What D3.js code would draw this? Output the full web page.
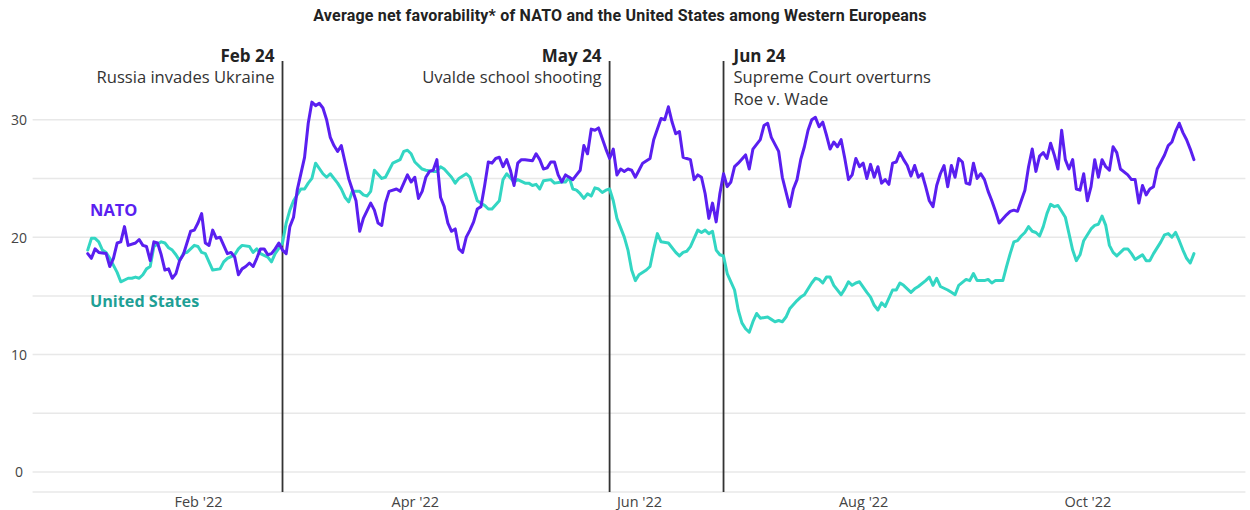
<!DOCTYPE html>
<html><head><meta charset="utf-8">
<script src="https://cdn.jsdelivr.net/npm/d3@7"></script>
<style>
html,body{margin:0;padding:0;background:#fff;}
svg{display:block;font-family:"Open Sans",sans-serif;}
</style></head><body>
<svg id="chart" width="1250" height="510"></svg>
<script>
// Day numbers counted from 1 Jan 2022 (0 = Jan 1)
const natoDays = [1,2,3,4,6,7,8,9,10,11,12,14,15,16,17,18,19,20,21,22,23,24,25,26,27,29,30,31,32,33,34,35,36,37,38,39,40,41,42,43,44,45,46,47,48,49,50,51,52,53,54,55,56,57,58,60,61,62,63,64,65,66,67,68,69,70,71,72,74,75,76,78,79,80,81,82,83,85,86,87,88,89,90,91,92,93,94,95,96,97,98,99,100,101,102,103,104,105,106,107,108,109,110,111,112,113,114,115,116,117,118,119,120,122,123,124,125,126,127,128,129,130,131,132,133,134,135,136,137,138,139,140,141,142,143,144,145,146,147,148,149,150,151,152,154,155,157,158,159,160,161,162,163,164,165,166,167,168,169,170,171,172,173,174,175,176,177,178,180,181,182,184,185,186,187,189,190,192,193,194,195,196,197,198,199,200,201,202,203,204,205,206,207,208,209,210,211,212,213,214,215,216,217,218,219,220,221,222,223,224,225,226,227,228,229,230,231,232,233,234,235,236,237,238,239,240,241,242,243,244,245,246,247,248,249,251,252,253,254,255,256,257,258,259,260,261,262,263,264,265,266,267,268,269,270,271,272,273,274,275,276,277,278,279,280,281,282,284,285,286,287,288,289,290,291,292,294,295,296,297,298,299,300,301,302];
const natoValues = [18.6,18.2,19.0,18.7,18.6,17.5,18.2,19.5,19.6,20.9,19.3,19.5,19.8,19.3,19.2,18.0,19.6,19.5,18.5,17.2,17.3,16.5,16.9,18.0,18.5,20.5,20.6,21.2,22.0,19.5,19.3,20.6,19.9,20.0,19.3,18.6,18.7,18.3,16.8,17.3,17.5,17.8,17.5,18.2,19.0,19.0,18.5,18.6,19.0,19.5,18.9,18.6,20.9,21.7,24.0,26.8,29.7,31.5,31.2,31.4,31.0,30.0,28.5,27.8,27.3,27.8,26.4,25.0,23.1,20.5,21.6,22.9,22.3,21.2,21.0,22.9,23.9,24.1,23.9,24.6,25.3,24.7,25.1,23.3,23.9,25.1,25.6,25.7,26.6,23.4,22.6,21.2,20.5,20.7,19.0,18.7,20.0,20.6,21.3,22.4,22.6,24.4,26.4,26.3,26.7,26.8,26.0,26.6,25.7,24.4,26.3,26.6,26.6,26.5,27.1,26.6,25.8,25.9,26.4,26.4,25.3,24.7,25.3,25.1,24.9,25.3,25.7,27.8,27.1,29.2,29.1,29.3,28.4,27.5,26.7,27.5,25.3,25.8,25.6,25.8,25.7,25.1,25.7,26.3,26.7,28.3,30.1,30.0,31.1,29.8,28.8,29.0,26.8,26.7,26.6,24.9,25.3,25.1,23.7,21.6,22.9,21.3,23.7,25.4,24.3,24.7,26.0,26.3,27.0,25.8,27.5,28.3,29.5,29.7,28.5,27.3,25.1,22.6,24.1,24.9,26.6,27.7,29.1,30.0,30.2,29.4,29.8,28.7,27.5,28.1,27.7,28.3,26.7,24.9,25.3,26.7,26.0,26.3,25.0,26.2,25.1,26.0,24.6,24.9,24.5,26.3,26.4,27.2,26.6,26.1,25.2,26.1,25.1,25.4,24.3,23.1,22.6,24.4,25.4,26.1,24.3,26.1,25.1,26.7,26.4,24.6,24.5,26.3,25.0,25.4,24.9,23.9,23.1,22.2,21.2,21.9,22.2,22.3,22.2,23.1,24.0,26.0,27.5,25.6,26.9,27.2,26.7,28.0,27.0,25.8,29.1,26.6,25.8,26.6,24.1,24.0,25.4,23.1,24.3,26.6,25.1,26.6,26.0,25.7,27.7,27.2,25.8,25.3,24.9,24.9,22.9,24.4,23.6,24.1,24.3,25.8,27.0,27.8,28.1,29.0,29.7,28.9,28.3,27.5,26.6];
const usDays = [1,2,3,4,5,6,7,9,10,12,13,14,15,16,17,18,19,21,22,23,24,25,26,27,28,30,31,32,33,34,35,37,38,39,41,42,43,45,46,47,48,50,51,52,54,55,56,57,59,60,61,62,63,65,66,67,69,70,71,72,73,75,76,77,78,79,81,82,83,84,86,87,88,89,90,92,93,95,96,97,98,100,101,102,104,105,106,107,109,110,111,113,114,115,117,118,120,121,122,123,124,125,127,128,130,131,132,133,134,135,136,137,138,139,140,141,142,143,144,145,147,148,149,150,151,153,154,155,156,157,159,161,162,163,164,165,166,167,168,169,170,171,172,173,174,175,177,178,179,180,181,182,183,184,186,187,188,189,190,191,192,194,195,196,198,199,200,201,202,203,204,206,207,208,209,210,211,213,214,215,216,217,218,220,221,222,223,225,226,227,229,230,231,232,233,235,236,237,238,240,241,242,243,245,246,247,248,250,251,252,253,254,255,256,257,258,259,260,261,262,263,264,265,266,267,268,269,270,271,272,274,275,276,277,278,279,280,281,283,284,285,286,287,288,289,290,291,293,294,295,296,297,298,299,300,301,302];
const usValues = [18.9,19.9,19.9,19.6,18.9,18.7,18.2,17.0,16.2,16.5,16.5,16.6,16.5,16.8,17.3,17.5,19.2,19.6,19.5,19.1,18.9,18.5,18.0,18.6,18.7,19.3,19.2,18.7,18.6,17.9,17.2,17.3,17.9,18.2,18.5,19.0,19.3,19.2,18.7,19.0,18.6,18.3,17.9,18.6,19.5,21.2,22.3,23.1,24.1,24.1,24.6,25.0,26.3,25.4,25.1,25.4,24.6,24.1,23.4,23.0,23.9,23.9,23.6,23.5,23.9,25.7,25.0,25.1,25.7,26.3,26.6,27.3,27.4,27.1,26.4,25.8,25.7,25.6,25.6,26.0,25.8,25.1,24.6,25.0,25.4,25.1,24.1,23.1,22.7,22.4,22.4,23.1,24.9,25.4,24.7,24.9,24.6,24.6,24.4,24.5,24.1,24.8,24.9,24.6,24.7,24.7,25.1,24.1,24.0,23.7,23.3,23.7,23.5,24.2,24.1,23.8,24.0,24.1,23.1,21.6,20.0,18.9,17.2,16.3,16.8,17.2,17.5,19.0,20.3,19.6,19.5,18.7,18.4,18.7,18.8,19.2,19.9,20.6,20.4,20.6,20.3,20.5,18.9,18.5,18.4,16.9,15.5,13.8,12.7,12.2,11.9,12.8,13.5,13.1,13.2,13.0,12.8,12.9,12.8,13.2,13.9,14.6,14.9,15.1,16.1,16.5,16.4,16.1,16.6,16.6,15.9,15.1,15.6,16.2,15.9,16.1,16.2,15.3,14.9,14.2,13.8,14.4,14.1,15.5,15.5,16.1,15.9,15.3,15.6,15.8,16.3,16.6,15.9,16.5,15.8,15.5,15.3,15.1,15.9,16.4,16.3,16.9,16.3,16.3,16.4,16.1,16.3,16.3,17.5,18.6,19.6,19.7,20.1,20.4,20.9,20.5,20.4,20.1,20.9,22.0,22.8,22.6,22.7,22.2,21.7,20.3,18.9,18.0,18.5,19.7,20.7,21.0,21.1,21.8,21.0,19.3,18.7,18.4,19.0,19.0,18.6,18.1,18.3,18.5,18.0,18.0,18.6,19.6,20.2,20.3,20.0,20.4,19.7,18.9,18.2,17.8,18.6];

const yTicks = [0, 10, 20, 30];
const gridValues = [0, 5, 10, 15, 20, 25, 30];
const xTickDates = ["2022-02-01", "2022-04-01", "2022-06-01", "2022-08-01", "2022-10-01"];
const eventDates = ["2022-02-24", "2022-05-24", "2022-06-24"];
const eventTitles = ["Feb 24", "May 24", "Jun 24"];
const eventTexts = [["Russia invades Ukraine"], ["Uvalde school shooting"], ["Supreme Court overturns", "Roe v. Wade"]];
const eventSides = ["left", "left", "right"];
const seriesNames = ["NATO", "United States"];
const titleText = "Average net favorability* of NATO and the United States among Western Europeans";

const parse = d3.timeParse("%Y-%m-%d");
const base = new Date(2022, 0, 1);
const toDate = d => d3.timeDay.offset(base, d);

const nato = natoDays.map((d, i) => ({date: toDate(d), value: natoValues[i]}));
const us = usDays.map((d, i) => ({date: toDate(d), value: usValues[i]}));

const svg = d3.select("#chart");
const x = d3.scaleTime().domain([new Date(2021, 11, 18), new Date(2022, 10, 13)]).range([32.6, 1245.4]);
const y = d3.scaleLinear().domain([-1.7, 35]).range([492, 61]);

// title
svg.append("text").attr("x", 620).attr("y", 21).attr("text-anchor", "middle")
  .style("font-family", "Roboto, sans-serif").style("font-weight", 700).style("font-size", "16px")
  .style("letter-spacing", "0.2px").attr("fill", "#222").text(titleText);

// grid
svg.append("g").selectAll("line").data(gridValues).join("line")
  .attr("x1", x.range()[0]).attr("x2", x.range()[1])
  .attr("y1", d => y(d)).attr("y2", d => y(d))
  .attr("stroke", "#e8e8e8").attr("stroke-width", 1.5);
svg.append("line").attr("x1", x.range()[0]).attr("x2", x.range()[1])
  .attr("y1", y(-1.7)).attr("y2", y(-1.7)).attr("stroke", "#e8e8e8").attr("stroke-width", 1.5);

// y axis
const yAxis = svg.append("g").attr("transform", "translate(19,0)")
  .call(d3.axisLeft(y).tickValues(yTicks).tickSize(0).tickPadding(0));
yAxis.select(".domain").remove();
yAxis.selectAll("text").attr("text-anchor", "middle").attr("dy", "0.35em")
  .style("font-family", "'Open Sans', sans-serif").style("font-size", "14px").attr("fill", "#444");

// x axis
const xAxis = svg.append("g").attr("transform", `translate(0,${y(-1.7)})`)
  .call(d3.axisBottom(x).tickValues(xTickDates.map(parse)).tickFormat(d3.timeFormat("%b '%y")).tickSize(0).tickPadding(5));
xAxis.select(".domain").remove();
xAxis.selectAll("text").style("font-family", "'Open Sans', sans-serif").style("font-size", "14.5px").attr("fill", "#444");

// event lines
const evG = svg.append("g");
eventDates.forEach((ds, i) => {
  const ex = x(parse(ds));
  evG.append("line").attr("x1", ex).attr("x2", ex).attr("y1", y(35)).attr("y2", y(-1.7))
    .attr("stroke", "#333").attr("stroke-width", 1.8);
  const left = eventSides[i] === "left";
  const tx = left ? ex - 8 : ex + 10;
  const anchor = left ? "end" : "start";
  evG.append("text").attr("x", tx).attr("y", 62).attr("text-anchor", anchor)
    .style("font-weight", 700).style("font-size", "17px").attr("fill", "#222").text(eventTitles[i]);
  eventTexts[i].forEach((t, j) => {
    evG.append("text").attr("x", tx).attr("y", 83 + j * 22).attr("text-anchor", anchor)
      .style("font-size", "16.6px").attr("fill", "#333").text(t);
  });
});

// lines
const line = d3.line().x(d => x(d.date)).y(d => y(d.value));
svg.append("path").datum(us).attr("d", line).attr("fill", "none")
  .attr("stroke", "#33d6c3").attr("stroke-width", 3).attr("stroke-linejoin", "round").attr("stroke-linecap", "round");
svg.append("path").datum(nato).attr("d", line).attr("fill", "none")
  .attr("stroke", "#5a1ff0").attr("stroke-width", 3).attr("stroke-linejoin", "round").attr("stroke-linecap", "round");

// series labels
svg.append("text").attr("x", 90).attr("y", 216).style("font-weight", 700).style("font-size", "16.5px")
  .attr("fill", "#5a1ff0").text(seriesNames[0]);
svg.append("text").attr("x", 90).attr("y", 307).style("font-weight", 700).style("font-size", "16.2px")
  .attr("fill", "#1fa096").text(seriesNames[1]);
</script>
</body></html>
